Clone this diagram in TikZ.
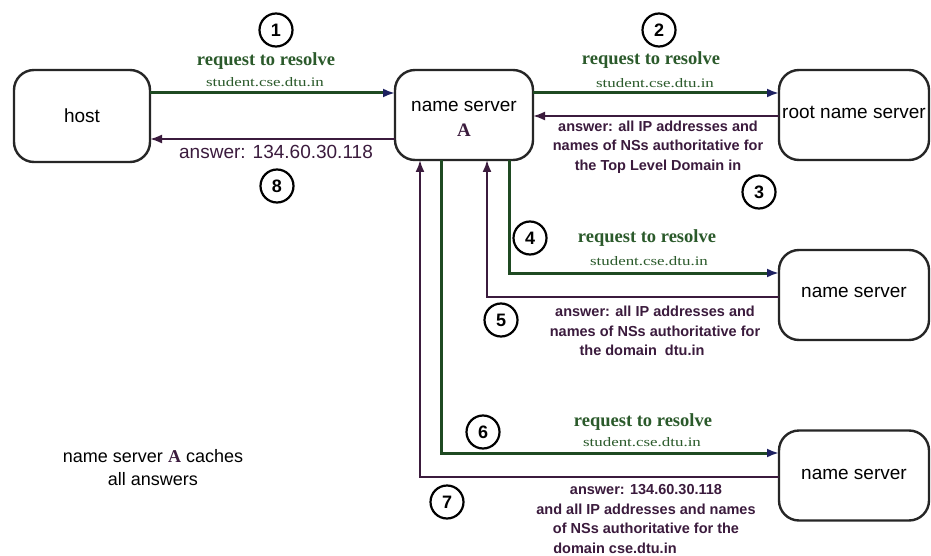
\documentclass[tikz,border=0pt]{standalone}
\usepackage{fontspec}
\setmainfont{Liberation Sans}
\newfontfamily\serifff{Liberation Serif}
\usetikzlibrary{arrows.meta}
\definecolor{grn}{HTML}{1F4A22}
\definecolor{prp}{HTML}{3B1B3D}
\definecolor{navy}{HTML}{1C2060}
\definecolor{grntxt}{HTML}{2B5A2B}
\tikzset{
  box/.style={draw=black!85, line width=2.4pt, rounded corners=20pt, inner sep=0pt, outer sep=0pt,
    font=\fontsize{19}{24}\selectfont, align=center},
  reqarrow/.style={grn, line width=3pt, -{Latex[length=12pt,width=9pt,color=navy]}},
  ansarrow/.style={prp, line width=2pt, -{Latex[length=12pt,width=9pt]}},
  num/.style={circle, draw=black, line width=2.2pt, minimum size=33pt, inner sep=0pt,
    font=\bfseries\fontsize{18}{18}\selectfont},
  reqtxt/.style={text=grntxt, inner sep=0pt, font=\serifff\bfseries\fontsize{18.5}{20}\selectfont},
  subtxt/.style={text=grntxt, inner sep=0pt, font=\serifff\fontsize{13}{14}\selectfont},
  anstxt/.style={text=prp, inner sep=0pt, align=center, font=\bfseries\fontsize{14.5}{19.5}\selectfont},
  plaintxt/.style={inner sep=0pt, align=center, font=\fontsize{18}{23}\selectfont}
}
\newcommand{\subdom}{\scalebox{1.3}[1]{student.cse.dtu.in}}
\begin{document}
\begin{tikzpicture}[x=1pt,y=-1pt]
\path[use as bounding box, fill=white] (0,0) rectangle (931,556);

% boxes
\node[box, minimum width=136pt, minimum height=92pt] (host) at (82,116) {host};
\node[box, minimum width=138pt, minimum height=90pt] (nsA) at (464,115) {};
\node[box, draw=none, inner sep=0pt] (nsAlabel) at (464,119) {name server\\[1pt]{\serifff\bfseries\color{prp}A}};
\node[box, minimum width=150pt, minimum height=90pt] (root) at (854,115) {\raisebox{5pt}{root name server}};
\node[box, minimum width=150pt, minimum height=90pt] (ns2) at (854,295) {\raisebox{5pt}{name server}};
\node[box, minimum width=150pt, minimum height=90pt] (ns3) at (854,475.5) {\raisebox{3pt}{name server}};

% 1 and 8
\draw[reqarrow] (host.east |- 0,93) -- (nsA.west |- 0,93);
\draw[ansarrow] (nsA.west |- 0,139) -- (host.east |- 0,139);
% 2 and 3
\draw[reqarrow] (nsA.east |- 0,93) -- (root.west |- 0,93);
\draw[ansarrow] (root.west |- 0,116) -- (nsA.east |- 0,116);
% 4 and 5
\coordinate (c4) at (509,273);
\coordinate (c5) at (487,297);
\draw[reqarrow] (nsA.south -| c4) -- (c4) -- (ns2.west |- c4);
\draw[ansarrow] (ns2.west |- c5) -- (c5) -- (nsA.south -| c5);
% 6 and 7
\coordinate (c6) at (441,453);
\coordinate (c7) at (420,477);
\draw[reqarrow] (nsA.south -| c6) -- (c6) -- (ns3.west |- c6);
\draw[ansarrow] (ns3.west |- c7) -- (c7) -- (nsA.south -| c7);

% numbers
\node[num] (n1) at (276,30) {1};
\node[num] (n2) at (659,30) {2};
\node[num] (n3) at (759,192) {3};
\node[num] (n4) at (530,238) {4};
\node[num] (n5) at (501,320) {5};
\node[num] (n6) at (483,432) {6};
\node[num] (n7) at (447,502) {7};
\node[num] (n8) at (277,186) {8};

% request labels
\node[reqtxt] (r1) at (266,61) {request to resolve};
\node[subtxt] (s1) at (265,82) {\subdom};
\node[reqtxt] (r2) at (651,60) {request to resolve};
\node[subtxt] (s2) at (655,83) {\subdom};
\node[reqtxt] (r4) at (647,238) {request to resolve};
\node[subtxt] (s4) at (649,261) {\subdom};
\node[reqtxt] (r6) at (643,422) {request to resolve};
\node[subtxt] (s6) at (642,442) {\subdom};

% answers
\node[text=prp, inner sep=0pt, font=\fontsize{19}{20}\selectfont] (a8) at (276,152) {answer: 134.60.30.118};
\node[anstxt] (a3) at (658,147) {answer: all IP addresses and\\names of NSs authoritative for\\the Top Level Domain in};
\node[anstxt] (a5) at (655,331) {answer: all IP addresses and\\names of NSs authoritative for\\the domain\ \ dtu.in\hspace*{26pt}};
\node[anstxt] (a7) at (646,519) {answer: 134.60.30.118\\and all IP addresses and names\\of NSs authoritative for the\\domain cse.dtu.in\hspace*{62pt}};

% cache note
\node[plaintxt] (cache) at (153,468) {name server {\serifff\bfseries\color{prp}A} caches\\all answers};
\end{tikzpicture}
\end{document}
